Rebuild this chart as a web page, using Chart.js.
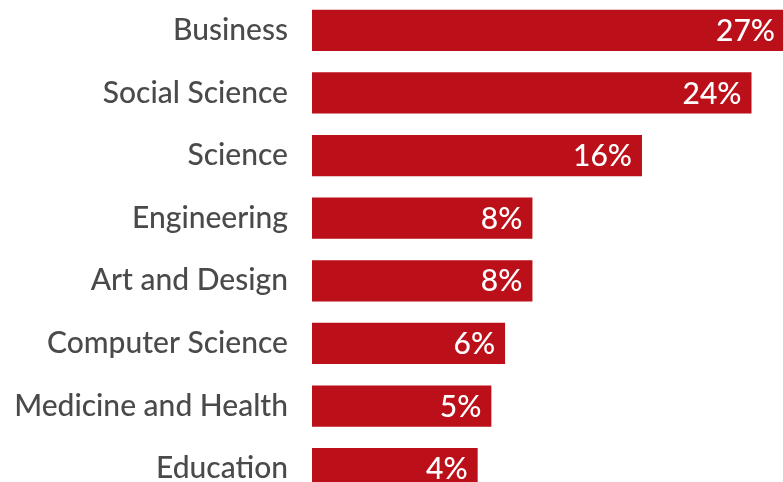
<!DOCTYPE html>
<html lang="en">
<head>
    <meta charset="UTF-8">
    <title>Fields of study</title>
    <script src="https://cdn.jsdelivr.net/npm/chart.js"></script>
    <style>
        html, body { margin: 0; padding: 0; background: #fff; overflow: hidden; }
        /* the last bar runs off the bottom of the picture, so the canvas is taller than the window */
        #fieldsChart { display: block; margin-top: -43px; }
    </style>
</head>
<body>

    <canvas id="fieldsChart" width="783" height="585"></canvas>

    <script>
        // data
        const fields = ['Business', 'Social Science', 'Science', 'Engineering', 'Art and Design',
                        'Computer Science', 'Medicine and Health', 'Education'];
        const shares = [27, 24, 16, 8, 8, 6, 5, 4];

        const axisMin = -8.1;
        const axisMax = 26.3;

        // white % labels at the end of each bar
        const barLabels = {
            id: 'barLabels',
            afterDatasetsDraw(chart) {
                const ctx = chart.ctx;
                const area = chart.chartArea;
                const bars = chart.getDatasetMeta(0).data;
                ctx.save();
                ctx.fillStyle = '#ffffff';
                ctx.font = '500 30px Lato';
                ctx.textAlign = 'right';
                ctx.textBaseline = 'middle';
                bars.forEach(function (bar, i) {
                    const x = Math.min(bar.x, area.right + 2) - 10;
                    ctx.fillText(shares[i] + '%', x, bar.y + 1);
                });
                ctx.restore();
            }
        };

        const fieldsCtx = document.getElementById('fieldsChart').getContext('2d');
        const fieldsChart = new Chart(fieldsCtx, {
            type: 'bar',
            data: {
                labels: fields,
                datasets: [{
                    data: shares,
                    base: axisMin,
                    backgroundColor: '#bb1019',
                    borderWidth: 0,
                    barPercentage: 0.66,
                    categoryPercentage: 1
                }]
            },
            options: {
                indexAxis: 'y',
                responsive: false,
                animation: false,
                layout: { padding: 0 },
                plugins: {
                    legend: { display: false },
                    tooltip: { enabled: false }
                },
                scales: {
                    x: {
                        display: false,
                        min: axisMin,
                        max: axisMax
                    },
                    y: {
                        grid: { display: false, drawTicks: false },
                        border: { display: false },
                        ticks: {
                            color: '#4a4a4a',
                            font: { family: 'Lato', size: 30, weight: 500 },
                            padding: 24
                        },
                        afterFit(scale) { scale.width = 312; }
                    }
                }
            },
            plugins: [barLabels]
        });
    </script>

</body>
</html>
